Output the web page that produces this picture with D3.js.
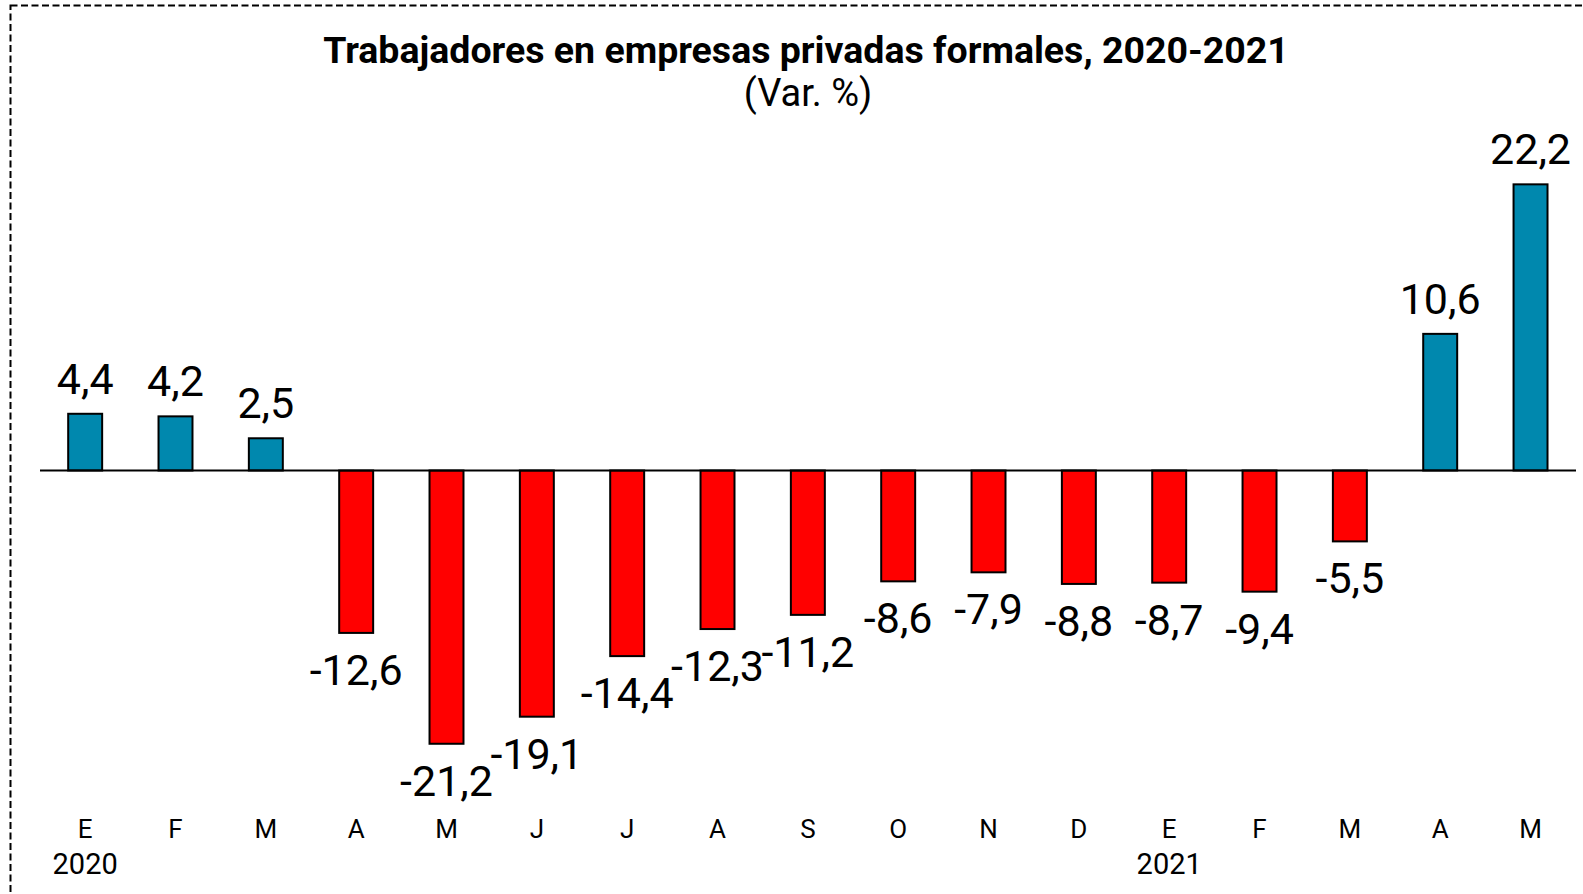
<!DOCTYPE html>
<html>
<head>
<meta charset="utf-8">
<script src="https://cdn.jsdelivr.net/npm/d3@7"></script>
<style>
  body { margin: 0; background: #fff; }
  text { font-family: Roboto, "Liberation Sans", sans-serif; fill: #000; }
</style>
</head>
<body>
<div class="chart-container"></div>
<script>
// data
var months = ["E", "F", "M", "A", "M", "J", "J", "A", "S", "O", "N", "D", "E", "F", "M", "A", "M"];
var years = ["2020", "", "", "", "", "", "", "", "", "", "", "", "2021", "", "", "", ""];
var values = [4.4, 4.2, 2.5, -12.6, -21.2, -19.1, -14.4, -12.3, -11.2, -8.6, -7.9, -8.8, -8.7, -9.4, -5.5, 10.6, 22.2];
var labels = ["4,4", "4,2", "2,5", "-12,6", "-21,2", "-19,1", "-14,4", "-12,3", "-11,2", "-8,6", "-7,9", "-8,8", "-8,7", "-9,4", "-5,5", "10,6", "22,2"];

var width = 1583, height = 894;

var svg = d3.select(".chart-container").append("svg")
    .attr("width", width)
    .attr("height", height);

// dashed frame, runs off the right and bottom edges
svg.append("rect")
    .attr("x", 10.5).attr("y", 5.5)
    .attr("width", width + 20).attr("height", height + 20)
    .attr("fill", "none")
    .attr("stroke", "#000")
    .attr("stroke-width", 2)
    .attr("stroke-dasharray", "7,3.5");

// title
svg.append("text")
    .attr("x", 806).attr("y", 63)
    .attr("text-anchor", "middle")
    .style("font-size", "37.5px")
    .style("font-weight", "bold")
    .text("Trabajadores en empresas privadas formales, 2020-2021");

svg.append("text")
    .attr("x", 808).attr("y", 106)
    .attr("text-anchor", "middle")
    .style("font-size", "38px")
    .text("(Var. %)");

var idx = d3.range(values.length);

var x = d3.scaleBand()
    .domain(idx)
    .range([40, 1575.7])
    .paddingInner(0.624)
    .paddingOuter(0.312);

var y = d3.scaleLinear()
    .domain([-25, 25])
    .range([470.5 + 25 * 12.89, 470.5 - 25 * 12.89]);

// bars
svg.selectAll(".bar")
    .data(idx)
  .enter().append("rect")
    .attr("class", "bar")
    .attr("x", function(i) { return x(i); })
    .attr("width", x.bandwidth())
    .attr("y", function(i) { return y(Math.max(0, values[i])); })
    .attr("height", function(i) { return Math.abs(y(values[i]) - y(0)); })
    .attr("fill", function(i) { return values[i] >= 0 ? "#0088AE" : "#FF0000"; })
    .attr("stroke", "#000")
    .attr("stroke-width", 2);

// zero line
svg.append("line")
    .attr("x1", 40).attr("x2", 1576)
    .attr("y1", y(0)).attr("y2", y(0))
    .attr("stroke", "#000")
    .attr("stroke-width", 2);

// value labels
svg.selectAll(".val")
    .data(idx)
  .enter().append("text")
    .attr("class", "val")
    .attr("x", function(i) { return x(i) + x.bandwidth() / 2; })
    .attr("y", function(i) { return values[i] >= 0 ? y(values[i]) - 20 : y(values[i]) + 52; })
    .attr("text-anchor", "middle")
    .style("font-size", "43px")
    .text(function(i) { return labels[i]; });

// month axis
svg.selectAll(".month")
    .data(idx)
  .enter().append("text")
    .attr("class", "month")
    .attr("x", function(i) { return x(i) + x.bandwidth() / 2; })
    .attr("y", 838)
    .attr("text-anchor", "middle")
    .style("font-size", "26px")
    .text(function(i) { return months[i]; });

svg.selectAll(".year")
    .data(idx.filter(function(i) { return years[i] !== ""; }))
  .enter().append("text")
    .attr("class", "year")
    .attr("x", function(i) { return x(i) + x.bandwidth() / 2; })
    .attr("y", 874)
    .attr("text-anchor", "middle")
    .style("font-size", "29px")
    .text(function(i) { return years[i]; });
</script>
</body>
</html>
